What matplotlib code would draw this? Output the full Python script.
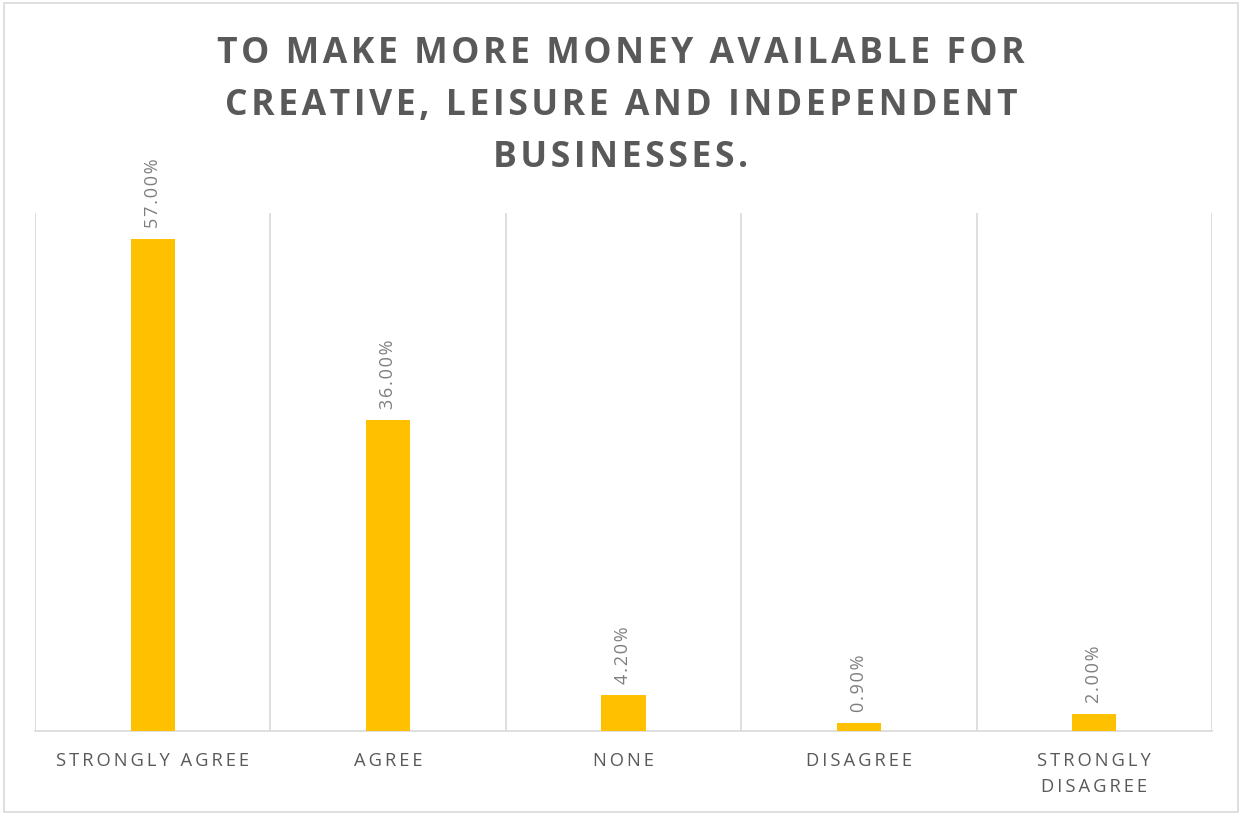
import matplotlib
matplotlib.use("Agg")
import matplotlib.pyplot as plt
from matplotlib.patches import Rectangle

categories = ["STRONGLY AGREE", "AGREE", "NONE", "DISAGREE", "STRONGLY\nDISAGREE"]
values = [57.00, 36.00, 4.20, 0.90, 2.00]
title_lines = ["TO MAKE MORE MONEY AVAILABLE FOR",
               "CREATIVE, LEISURE AND INDEPENDENT",
               "BUSINESSES."]

plt.rcParams['font.family'] = ['Open Sans', 'DejaVu Sans']

HAIR = "\u200a"
THIN = "\u2009"


def tracked(text, sep):
    """Widen letter spacing by putting a narrow space between characters."""
    return "\n".join(sep.join(line) for line in text.split("\n"))


W, H = 1242, 814
fig = plt.figure(figsize=(W / 100, H / 100), dpi=100)
fig.patch.set_facecolor("white")

# thin outer frame around the chart
fig.add_artist(Rectangle((4 / W, 2 / H), 1234 / W, 809 / H, transform=fig.transFigure,
                         fill=False, edgecolor="#d9d9d9", linewidth=1.2))

ax = fig.add_axes([35 / W, 1 - 731 / H, (1212 - 35) / W, (731 - 213) / H])
x = list(range(len(categories)))
ax.bar(x, values, width=0.187, color="#ffc000", zorder=3)

ax.set_xlim(-0.5, len(categories) - 0.5)
ax.set_ylim(0, 60)

# vertical separators between categories
for b in [i - 0.5 for i in range(len(categories) + 1)]:
    ax.axvline(b, color="#d9d9d9", linewidth=1.2, zorder=1)

for s in ["top", "left", "right"]:
    ax.spines[s].set_visible(False)
ax.spines["bottom"].set_color("#d9d9d9")
ax.spines["bottom"].set_linewidth(1.2)
ax.set_yticks([])
ax.set_xticks(x)
ax.set_xticklabels([tracked(c, THIN) for c in categories], fontsize=13.2,
                   color="#595959", linespacing=1.55)
ax.tick_params(axis="x", length=0, pad=15)
for lbl in ax.get_xticklabels():
    lbl.set_verticalalignment("top")

for xi, v in zip(x, values):
    ax.annotate(tracked(f"{v:.2f}%", HAIR), (xi, v), xytext=(0, 8),
                textcoords="offset points", rotation=90, ha="center", va="bottom",
                fontsize=13, color="#7f7f7f")

fig.text(0.5, 1 - 36 / H, tracked("\n".join(title_lines), HAIR), ha="center", va="top",
         fontsize=25.6, fontweight="bold", color="#595959", linespacing=1.6)

fig.savefig("out.png", dpi=100)
